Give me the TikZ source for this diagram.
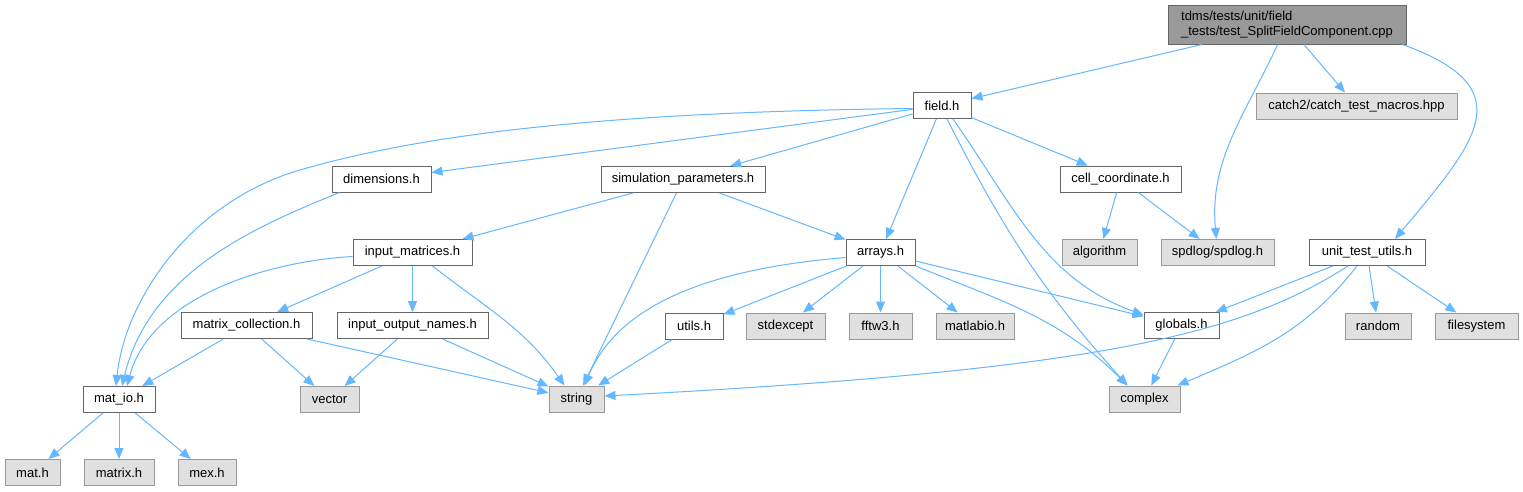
\documentclass[tikz,border=0pt]{standalone}
\usepackage{fontspec}
\setmainfont{Liberation Sans}
\usetikzlibrary{arrows.meta}
\definecolor{edgeblue}{HTML}{63B8FF}
\definecolor{boxline}{HTML}{666666}
\definecolor{sysline}{HTML}{999999}
\definecolor{sysfill}{HTML}{E0E0E0}
\definecolor{rootfill}{HTML}{999999}
\tikzset{
  hdr/.style={draw=boxline, fill=white, line width=1pt, minimum height=26pt, inner xsep=0pt, inner ysep=0pt, font=\fontsize{13}{15}\selectfont},
  sysinc/.style={hdr, draw=sysline, fill=sysfill},
  rootfile/.style={hdr, fill=rootfill, align=left, minimum height=39pt},
  dep/.style={draw=edgeblue, line width=1pt, -{Triangle[length=11pt,width=9pt]}}
}
\begin{document}
\begin{tikzpicture}[x=1pt,y=1pt]
\useasboundingbox[fill=white] (0,0) rectangle (1523,-491);
\node[rootfile, minimum width=238pt] (root) at (1287,-24.5) {tdms/tests/unit/field\\\_tests/test\_SplitFieldComponent.cpp};
\node[hdr, minimum width=58pt] (field) at (942,-105.5) {field.h};
\node[sysinc, minimum width=201pt] (catch) at (1356.5,-106) {catch2/catch\_test\_macros.hpp};
\node[hdr, minimum width=99pt] (dim) at (381.5,-179) {dimensions.h};
\node[hdr, minimum width=164pt] (simpar) at (683,-179.5) {simulation\_parameters.h};
\node[hdr, minimum width=121pt] (cellco) at (1120.5,-179) {cell\_coordinate.h};
\node[hdr, minimum width=119pt] (inmat) at (412.5,-252.5) {input\_matrices.h};
\node[hdr, minimum width=69pt] (arrays) at (880.5,-252.5) {arrays.h};
\node[sysinc, minimum width=75pt] (algo) at (1099.5,-252.5) {algorithm};
\node[sysinc, minimum width=113pt] (spdlog) at (1217.5,-252.5) {spdlog/spdlog.h};
\node[hdr, minimum width=116pt] (unit) at (1367,-252.5) {unit\_test\_utils.h};
\node[hdr, minimum width=131pt] (matcoll) at (246.5,-325.5) {matrix\_collection.h};
\node[hdr, minimum width=151pt] (ionames) at (412.5,-325.5) {input\_output\_names.h};
\node[hdr, minimum width=58pt] (utils) at (694,-326) {utils.h};
\node[sysinc, minimum width=79pt] (stdexc) at (785.5,-326) {stdexcept};
\node[sysinc, minimum width=63pt] (fftw) at (880.5,-326) {fftw3.h};
\node[sysinc, minimum width=78pt] (matlabio) at (975,-326) {matlabio.h};
\node[hdr, minimum width=75pt] (globals) at (1181.5,-325.5) {globals.h};
\node[sysinc, minimum width=66pt] (random) at (1378,-326) {random};
\node[sysinc, minimum width=83pt] (filesys) at (1476.5,-326) {filesystem};
\node[hdr, minimum width=72pt] (matio) at (119,-399.5) {mat\_io.h};
\node[sysinc, minimum width=59pt] (vector) at (329.5,-399.5) {vector};
\node[sysinc, minimum width=55pt] (string) at (576.5,-399) {string};
\node[sysinc, minimum width=71pt] (complex) at (1144.5,-399) {complex};
\node[sysinc, minimum width=55pt] (math) at (32.5,-472.5) {mat.h};
\node[sysinc, minimum width=70pt] (matrixh) at (119,-472.5) {matrix.h};
\node[sysinc, minimum width=58pt] (mexh) at (207,-472.5) {mex.h};

\draw[dep] (root) -- (field);
\draw[dep] (root) -- (catch);
\draw[dep] (root) to[out=-115,in=95] (spdlog);
\draw[dep] ([xshift=-4]root.south east) .. controls (1523,-88) and (1478,-140) .. ([xshift=28]unit.north);

\draw[dep] ([yshift=-3]field.west) .. controls (600,-112) and (420,-135) .. (300,-170) .. controls (190,-202) and (125,-300) .. ([xshift=-3]matio.north);
\draw[dep] (field) -- (dim);
\draw[dep] (field) -- (simpar);
\draw[dep] (field) -- (cellco);
\draw[dep] (field) -- (arrays);
\draw[dep] ([xshift=5]field.south) to[out=-63,in=132] ([xshift=-17]complex.north);
\draw[dep] ([xshift=11]field.south) to[out=-55,in=160] ([yshift=-3]globals.north west);

\draw[dep] ([xshift=8]dim.south west) .. controls (260,-225) and (150,-270) .. ([xshift=3]matio.north);

\draw[dep] (simpar) -- (inmat);
\draw[dep] (simpar) -- (string);
\draw[dep] (simpar) -- (arrays);

\draw[dep] (cellco) -- (algo);
\draw[dep] (cellco) -- (spdlog);

\draw[dep] ([yshift=-4]inmat.west) .. controls (260,-262) and (150,-300) .. ([xshift=8]matio.north);
\draw[dep] (inmat) -- (matcoll);
\draw[dep] (inmat) -- (ionames);
\draw[dep] ([xshift=20]inmat.south) to[out=-38,in=125] ([xshift=-12]string.north);

\draw[dep] ([yshift=-5]arrays.west) .. controls (720,-268) and (620,-300) .. ([xshift=8]string.north);
\draw[dep] (arrays) -- (utils);
\draw[dep] (arrays) -- (stdexc);
\draw[dep] (arrays) -- (fftw);
\draw[dep] (arrays) -- (matlabio);
\draw[dep] (arrays.south east) to[out=-22,in=135] ([xshift=-17]complex.north);
\draw[dep] (arrays) -- (globals);

\draw[dep] (unit) -- (globals);
\draw[dep] ([xshift=-19]unit.south) .. controls (1240,-335) and (1100,-370) .. ([yshift=3]string.east);
\draw[dep] ([xshift=-10]unit.south) to[out=-128,in=23] ([xshift=-3]complex.north east);
\draw[dep] (unit) -- (random);
\draw[dep] (unit) -- (filesys);

\draw[dep] (matcoll) -- (matio);
\draw[dep] (matcoll) -- (vector);
\draw[dep] (matcoll) -- (string);
\draw[dep] (ionames) -- (vector);
\draw[dep] (ionames) -- (string);
\draw[dep] (utils) -- (string);
\draw[dep] (globals) -- (complex);

\draw[dep] (matio) -- (math);
\draw[dep] (matio) -- (matrixh);
\draw[dep] (matio) -- (mexh);
\end{tikzpicture}
\end{document}
